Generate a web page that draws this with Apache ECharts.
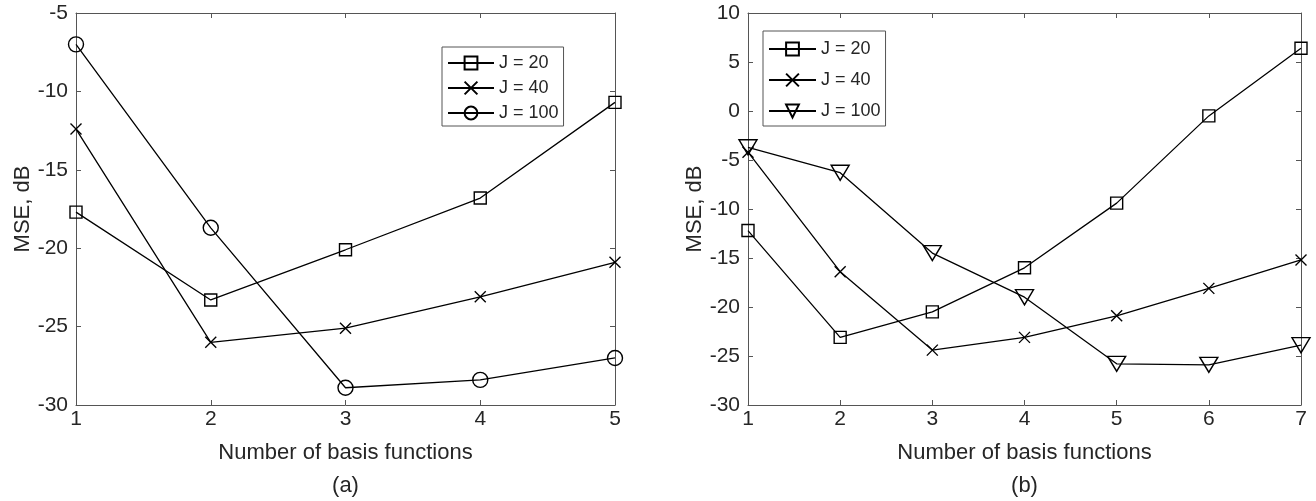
<!DOCTYPE html>
<html>
<head>
    <meta charset="utf-8">
    <title>MSE vs number of basis functions</title>
    <script src="https://cdn.jsdelivr.net/npm/echarts@6/dist/echarts.min.js"></script>
    <style>
        html, body { margin: 0; padding: 0; background: #ffffff; }
        #chart { width: 1316px; height: 501px; }
    </style>
</head>
<body>
<div id="chart"></div>
<script>
    // panel (a): 1..5 basis functions
    var xA = [1, 2, 3, 4, 5];
    var a_J20 = [-17.7, -23.3, -20.1, -16.8, -10.7];
    var a_J40 = [-12.4, -26.0, -25.1, -23.1, -20.9];
    var a_J100 = [-7.0, -18.7, -28.9, -28.4, -27.0];

    // panel (b): 1..7 basis functions
    var xB = [1, 2, 3, 4, 5, 6, 7];
    var b_J20 = [-12.2, -23.1, -20.5, -16.0, -9.4, -0.5, 6.4];
    var b_J40 = [-4.2, -16.4, -24.4, -23.1, -20.9, -18.1, -15.2];
    var b_J100 = [-3.7, -6.3, -14.5, -19.0, -25.8, -25.9, -23.9];

    var names = ['J = 20', 'J = 40', 'J = 100'];

    function pairs(xs, ys) {
        return xs.map(function (x, i) { return [x, ys[i]]; });
    }

    var axisColor = '#555555';
    var textColor = '#262626';
    var font = 'Liberation Sans, Arial, Helvetica, sans-serif';

    var CROSS = 'path://M0,0L10,10M0,10L10,0';
    var TRI_DOWN = 'path://M0,0L12,0L6,10.4Z';

    function xAxisPair(grid, max, label) {
        return [{
            type: 'value', gridIndex: grid, min: 1, max: max, interval: 1,
            name: label, nameLocation: 'middle', nameGap: 31,
            nameTextStyle: { fontSize: 22, color: textColor, fontFamily: font, lineHeight: 33 },
            axisLine: { onZero: false, lineStyle: { color: axisColor, width: 1 } },
            axisTick: { inside: true, length: 5, lineStyle: { color: axisColor } },
            axisLabel: { fontSize: 21, color: textColor, fontFamily: font, margin: 4 },
            splitLine: { show: false }
        }, {
            type: 'value', gridIndex: grid, position: 'top', min: 1, max: max, interval: 1,
            axisLine: { onZero: false, lineStyle: { color: axisColor, width: 1 } },
            axisTick: { inside: true, length: 5, lineStyle: { color: axisColor } },
            axisLabel: { show: false },
            splitLine: { show: false }
        }];
    }

    function yAxisPair(grid, min, max) {
        return [{
            type: 'value', gridIndex: grid, min: min, max: max, interval: 5,
            name: 'MSE, dB', nameLocation: 'middle', nameGap: 40,
            nameTextStyle: { fontSize: 22, color: textColor, fontFamily: font },
            axisLine: { show: true, onZero: false, lineStyle: { color: axisColor, width: 1 } },
            axisTick: { show: true, inside: true, length: 5, lineStyle: { color: axisColor } },
            axisLabel: { fontSize: 21, color: textColor, fontFamily: font, margin: 8 },
            splitLine: { show: false }
        }, {
            type: 'value', gridIndex: grid, position: 'right', min: min, max: max, interval: 5,
            axisLine: { show: true, onZero: false, lineStyle: { color: axisColor, width: 1 } },
            axisTick: { show: true, inside: true, length: 5, lineStyle: { color: axisColor } },
            axisLabel: { show: false },
            splitLine: { show: false }
        }];
    }

    function line(name, data, xi, yi, symbol, size) {
        return {
            name: name, type: 'line', xAxisIndex: xi, yAxisIndex: yi,
            data: data, symbol: symbol, symbolSize: size, showSymbol: true,
            animation: false,
            lineStyle: { color: '#000000', width: 1.3 },
            itemStyle: { color: 'none', borderColor: '#000000', borderWidth: 1.4 }
        };
    }

    var chart = echarts.init(document.getElementById('chart'));
    var option = {
        backgroundColor: '#ffffff',
        animation: false,
        grid: [
            { left: 76, right: 701, top: 13, bottom: 96, outerBoundsMode: 'none', containLabel: false },
            { left: 748, right: 15, top: 13, bottom: 96, outerBoundsMode: 'none', containLabel: false }
        ],
        xAxis: xAxisPair(0, 5, 'Number of basis functions\n(a)')
            .concat(xAxisPair(1, 7, 'Number of basis functions\n(b)')),
        yAxis: yAxisPair(0, -30, -5).concat(yAxisPair(1, -30, 10)),
        legend: [{
            data: names,
            orient: 'vertical', left: 442, top: 47,
            padding: [7, 5, 4, 5], itemGap: 7,
            itemWidth: 46, itemHeight: 16,
            backgroundColor: '#ffffff', borderColor: axisColor, borderWidth: 1,
            textStyle: { fontSize: 18, color: textColor, fontFamily: font, lineHeight: 16 },
            selectedMode: false
        }, {
            data: names.map(function (n) { return n + ' (b)'; }),
            orient: 'vertical', left: 763, top: 31,
            padding: [9, 5, 6, 5], itemGap: 13,
            itemWidth: 47, itemHeight: 16,
            backgroundColor: '#ffffff', borderColor: axisColor, borderWidth: 1,
            formatter: function (n) { return n.replace(' (b)', ''); },
            textStyle: { fontSize: 18, color: textColor, fontFamily: font, lineHeight: 16 },
            selectedMode: false
        }],
        series: [
            line('J = 20', pairs(xA, a_J20), 0, 0, 'rect', 12),
            line('J = 40', pairs(xA, a_J40), 0, 0, CROSS, 11),
            line('J = 100', pairs(xA, a_J100), 0, 0, 'circle', 15),
            line('J = 20 (b)', pairs(xB, b_J20), 2, 2, 'rect', 12),
            line('J = 40 (b)', pairs(xB, b_J40), 2, 2, CROSS, 11),
            line('J = 100 (b)', pairs(xB, b_J100), 2, 2, TRI_DOWN, [18, 15])
        ]
    };
    chart.setOption(option);
</script>
</body>
</html>
